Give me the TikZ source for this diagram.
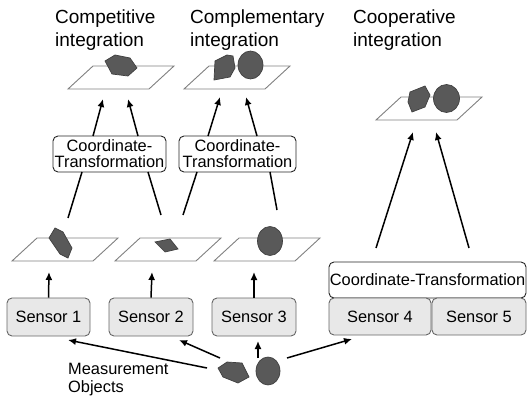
\documentclass[tikz,border=0pt]{standalone}
\usepackage{fontspec}
\setmainfont{Liberation Sans}
\usetikzlibrary{arrows.meta}
\tikzset{
  plane/.style={draw=black!50, line width=0.9pt, fill=white},
  obj/.style={draw=black!75, line width=0.7pt, fill=black!65},
  arr/.style={line width=1.5pt, -{Latex[length=8pt,width=7pt]}},
  ln/.style={line width=1.5pt},
  title/.style={anchor=base west, inner sep=0pt, font=\fontsize{19}{23}\selectfont},
  lbl/.style={anchor=base west, inner sep=0pt, font=\fontsize{16.4}{18}\selectfont},
  ctbox/.style={draw=black!85, line width=0.9pt, rounded corners=5pt, fill=white, align=center, inner sep=0pt, font=\fontsize{16.4}{16}\selectfont},
  sensor/.style={draw=black!60, line width=0.9pt, rounded corners=5pt, fill=black!9, inner sep=0pt, font=\fontsize{16.4}{18}\selectfont},
}
\newcommand{\myplane}[2]{\draw[plane] (#1,#2) -- ++(81,0) -- ++(25,-23) -- ++(-81,0) -- cycle;}
\begin{document}
\begin{tikzpicture}[x=1pt,y=-1pt]
\useasboundingbox (0,0) rectangle (527,398);

% titles
\node[title] (t1a) at (55,24) {Competitive};
\node[title] (t1b) at (55,47) {integration};
\node[title] (t2a) at (190,24) {Complementary};
\node[title] (t2b) at (190,47) {integration};
\node[title] (t3a) at (353,24) {Cooperative};
\node[title] (t3b) at (353,47) {integration};

% top planes
\myplane{68}{89}
\myplane{184}{89}
\myplane{376}{120}
\draw[obj] (105,61) -- (115,55) -- (130,58) -- (137,68) -- (128,76) -- (112,74) -- cycle;
\draw[obj] (215,61) -- (227,55) -- (233,56) -- (235,68) -- (230,77) -- (214,80) -- cycle;
\draw[obj] (250.5,65) ellipse [x radius=12.5, y radius=14];
\draw[obj] (410,92) -- (425,86) -- (430,95) -- (425,107) -- (412,112) -- (408,102) -- cycle;
\draw[obj] (446.5,98.5) ellipse [x radius=13, y radius=14];

% lower planes
\myplane{12}{261}
\myplane{115}{261}
\myplane{214}{261}
\draw[obj] (55,228) -- (63,232) -- (72,248) -- (68,258) -- (60,254) -- (49,238) -- cycle;
\draw[obj] (155,242) -- (170,239) -- (178,249) -- (165,252) -- cycle;
\draw[obj] (270,241) ellipse [x radius=12.5, y radius=14.5];

% bottom objects
\draw[obj] (218,368) -- (227,362) -- (242,363) -- (249,377) -- (238,383) -- (223,377) -- cycle;
\draw[obj] (268,371) ellipse [x radius=12, y radius=14];

% boxes
\node[ctbox, minimum width=113pt, minimum height=36pt] (ct1) at (109.5,154) {Coordinate-\\Transformation};
\node[ctbox, minimum width=117pt, minimum height=36pt] (ct2) at (237.5,154) {Coordinate-\\Transformation};
\node[ctbox, minimum width=197pt, minimum height=36pt] (ct3) at (427.5,280) {Coordinate-Transformation};
\node[sensor, minimum width=83pt, minimum height=38pt] (s1) at (48.5,317) {Sensor 1};
\node[sensor, minimum width=84pt, minimum height=38pt] (s2) at (151,317) {Sensor 2};
\node[sensor, minimum width=84pt, minimum height=38pt] (s3) at (254,317) {Sensor 3};
\node[sensor, minimum width=102pt, minimum height=37pt] (s4) at (380,316.5) {Sensor 4};
\node[sensor, minimum width=94pt, minimum height=37pt] (s5) at (479,316.5) {Sensor 5};

% measurement label
\node[lbl] (m1) at (68,374) {Measurement};
\node[lbl] (m2) at (68,392) {Objects};

% coordinates
\coordinate (p1a) at (103,99);
\coordinate (p1b) at (128,99);
\coordinate (p2a) at (220,97);
\coordinate (p2b) at (246,97);
\coordinate (c1a) at (93,136);
\coordinate (c1b) at (138,136);
\coordinate (c2a) at (208,136);
\coordinate (c2b) at (257,136);
\coordinate (d1a) at (82,172);
\coordinate (d1b) at (148,172);
\coordinate (d2a) at (197,172);
\coordinate (d2b) at (270,172);
\coordinate (la) at (68,218);
\coordinate (lb) at (161,215);
\coordinate (lc) at (183,215);
\coordinate (ld) at (277,210);
\coordinate (pa) at (49,272);
\coordinate (pb) at (152,272);
\coordinate (pc) at (254,272);
\coordinate (e3a) at (376,248);
\coordinate (e3b) at (469,248);
\coordinate (p3a) at (413,132);
\coordinate (p3b) at (436,132);
\coordinate (o1) at (207,368);
\coordinate (o2) at (220,358);
\coordinate (o3) at (258,358);
\coordinate (o4) at (287,358);
\coordinate (q1) at (68,340);
\coordinate (q2) at (179,340);
\coordinate (q3) at (258,341);
\coordinate (q4) at (352,339);

% connectors
\draw[arr] (c1a) -- (p1a);
\draw[arr] (c1b) -- (p1b);
\draw[arr] (c2a) -- (p2a);
\draw[arr] (c2b) -- (p2b);
\draw[ln] (la) -- (d1a);
\draw[ln] (lb) -- (d1b);
\draw[ln] (lc) -- (d2a);
\draw[ln] (ld) -- (d2b);
\draw[arr] (s1.north) -- (pa);
\draw[arr] (s2.north) -- (pb);
\draw[arr] (s3.north) -- (pc);
\draw[arr] (e3a) -- (p3a);
\draw[arr] (e3b) -- (p3b);
\draw[arr] (o1) -- (q1);
\draw[arr] (o2) -- (q2);
\draw[arr] (o3) -- (q3);
\draw[arr] (o4) -- (q4);
\end{tikzpicture}
\end{document}
